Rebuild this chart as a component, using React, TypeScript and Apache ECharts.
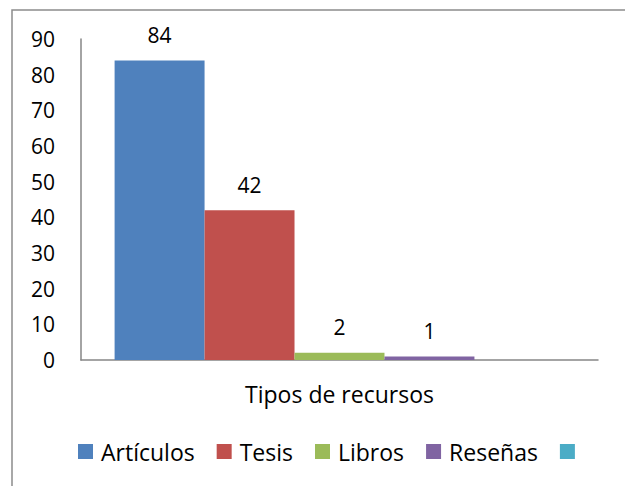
import React, { useEffect, useRef } from "react";
import * as echarts from "echarts";

const categories = ["Tipos de recursos"];
const seriesNames = ["Artículos", "Tesis", "Libros", "Reseñas", " "];
const seriesValues: (number | null)[][] = [[84], [42], [2], [1], [null]];
const seriesColors = ["#4F81BD", "#C0504D", "#9BBB59", "#8064A2", "#4BACC6"];
const yTicks = { min: 0, max: 90, interval: 10 };

const FONT = "'Open Sans', sans-serif";
const FS_NUM = 21;
const FS_TXT = 23;

export default function App() {
  const ref = useRef<HTMLDivElement>(null);
  useEffect(() => {
    if (!ref.current) return;
    const chart = echarts.init(ref.current, null, { renderer: "svg" });
    chart.setOption({
      animation: false,
      backgroundColor: "#ffffff",
      textStyle: { fontFamily: FONT },
      graphic: [
        {
          type: "rect",
          shape: { x: 12, y: 10, width: 700, height: 600 },
          style: { fill: "none", stroke: "#8c8c8c", lineWidth: 1.5 },
          silent: true,
        },
      ],
      grid: { left: 81, top: 39, right: 27, bottom: 126, containLabel: false },
      legend: {
        data: seriesNames,
        top: 440,
        left: 78,
        padding: 0,
        itemWidth: 15,
        itemHeight: 15,
        itemGap: 22,
        icon: "rect",
        textStyle: {
          fontSize: FS_TXT,
          color: "#000000",
          fontFamily: FONT,
          padding: [0, 0, 0, 3],
        },
      },
      xAxis: {
        type: "category",
        data: categories,
        axisLine: { lineStyle: { color: "#868686", width: 1.5 } },
        axisTick: { show: false },
        axisLabel: { fontSize: FS_TXT, color: "#000000", margin: 22, fontFamily: FONT },
      },
      yAxis: {
        type: "value",
        min: yTicks.min,
        max: yTicks.max,
        interval: yTicks.interval,
        splitLine: { show: false },
        axisLine: { show: true, lineStyle: { color: "#868686", width: 1.5 } },
        axisTick: { show: false },
        axisLabel: { fontSize: FS_NUM, color: "#000000", margin: 26, fontFamily: FONT },
      },
      series: seriesNames.map((name, i) => ({
        name,
        type: "bar",
        data: seriesValues[i],
        barGap: "0%",
        barCategoryGap: "13%",
        itemStyle: { color: seriesColors[i] },
        label: {
          show: true,
          position: "top",
          distance: 15,
          fontSize: FS_NUM,
          color: "#000000",
          fontFamily: FONT,
        },
      })),
    });
    return () => chart.dispose();
  }, []);
  return (
    <div
      ref={ref}
      style={{ position: "fixed", left: 0, top: 0, width: 625, height: 486 }}
    />
  );
}
